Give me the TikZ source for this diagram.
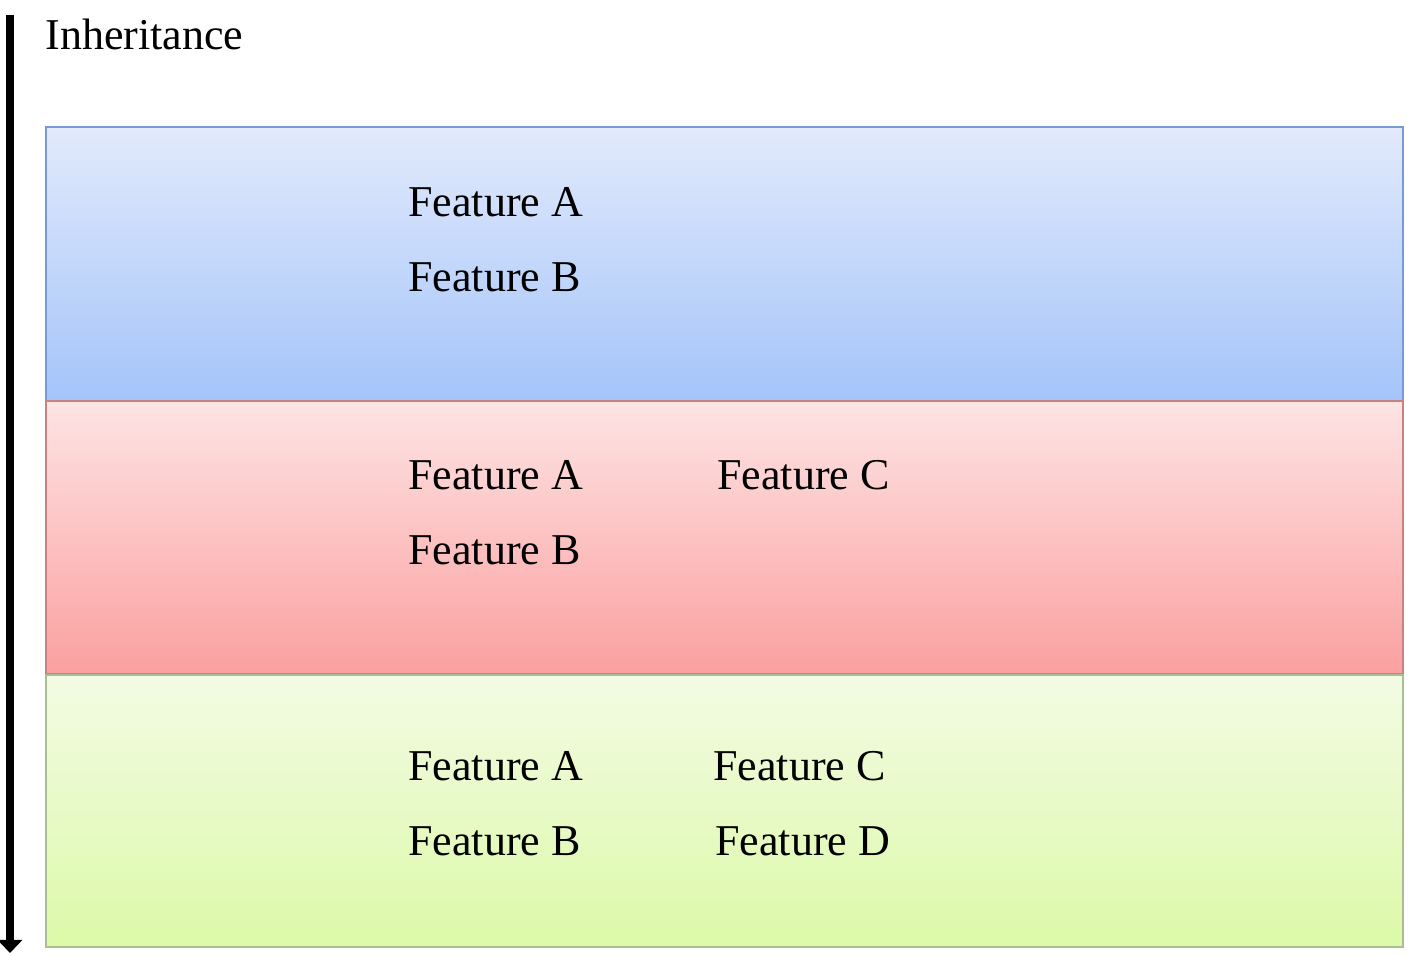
\documentclass[tikz,border=0pt]{standalone}
\usepackage{fontspec}
\setmainfont{Liberation Serif}
\usetikzlibrary{arrows.meta,positioning}

\definecolor{bluetop}{RGB}{226,234,251}
\definecolor{bluebot}{RGB}{164,196,250}
\definecolor{blueline}{RGB}{120,155,215}
\definecolor{redtop}{RGB}{253,228,228}
\definecolor{redbot}{RGB}{251,160,160}
\definecolor{redline}{RGB}{200,130,130}
\definecolor{greentop}{RGB}{243,251,228}
\definecolor{greenbot}{RGB}{220,249,168}
\definecolor{greenline}{RGB}{170,190,150}

\begin{document}
\begin{tikzpicture}[
  x=0.5pt, y=-0.5pt,
  font=\fontsize{22pt}{24pt}\selectfont,
  band/.style={draw=#1line, line width=0.6pt, top color=#1top, bottom color=#1bot},
  feat/.style={anchor=west, inner sep=0pt},
  arr/.style={-{Triangle[width=12pt,length=6.5pt]}, line width=4pt}
]
\useasboundingbox (0,0) rectangle (1410,956);

% layers
\shade[band=blue] (46,127) rectangle (1403,401);
\shade[band=red] (46,401) rectangle (1403,674);
\shade[band=green] (46,675) rectangle (1403,947);

% inheritance arrow
\coordinate (top) at (10,15);
\coordinate (bottom) at (10,953);
\draw[arr] (top) -- (bottom);
\node[feat] (title) at (45,34) {Inheritance};

% features
\node[feat] (a1) at (408,202) {Feature A};
\node[feat] (b1) at (408,277) {Feature B};

\node[feat] (a2) at (408,475) {Feature A};
\node[feat] (b2) at (408,550) {Feature B};
\node[feat] (c2) at (717,475) {Feature C};

\node[feat] (a3) at (408,766) {Feature A};
\node[feat] (b3) at (408,841) {Feature B};
\node[feat] (c3) at (713,766) {Feature C};
\node[feat] (d3) at (715,841) {Feature D};

\end{tikzpicture}
\end{document}
